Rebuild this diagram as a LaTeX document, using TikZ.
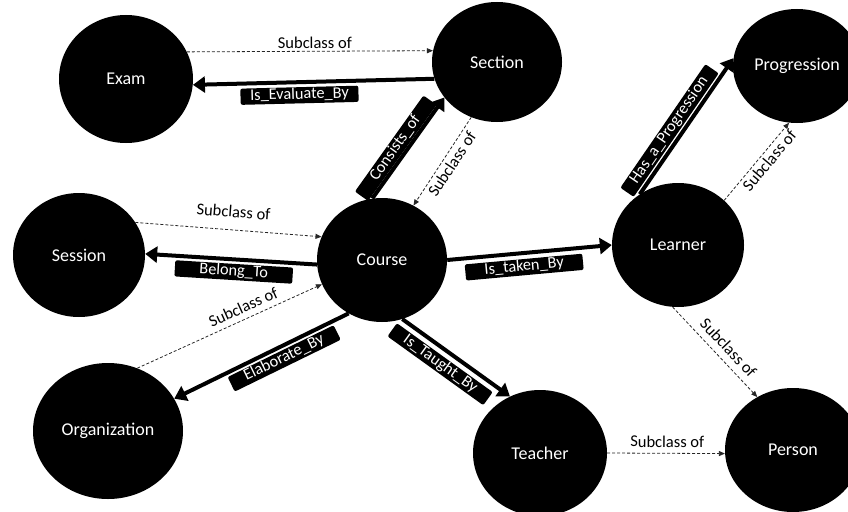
\documentclass[tikz,border=0pt]{standalone}
\usepackage{fontspec}
\setmainfont{Carlito}
\usetikzlibrary{arrows.meta,shapes.geometric}
\begin{document}
\begin{tikzpicture}[x=1pt,y=-1pt,
  cls/.style={ellipse, fill=black, text=white, inner sep=0pt, font=\fontsize{18}{21}\selectfont},
  rel/.style={line width=4pt, -{Triangle[length=12pt,width=16pt]}},
  sub/.style={line width=0.8pt, black!85, dash pattern=on 3pt off 2pt, -{Triangle[length=6pt,width=5pt]}},
  rlab/.style={fill=black, text=white, rounded corners=2pt, font=\fontsize{16.3}{19}\selectfont,
    minimum width=118pt, inner xsep=6pt, inner ysep=0.8pt, text height=11pt, text depth=3.6pt, sloped},
  slab/.style={text=black, font=\fontsize{16.5}{19}\selectfont, sloped, inner sep=1pt}
]
\useasboundingbox (0,0) rectangle (848,511);
\clip (0,0) rectangle (848,511);

% classes
\node[cls, minimum width=134pt, minimum height=128pt] (exam) at (126,79) {Exam};
\node[cls, minimum width=130pt, minimum height=120pt] (section) at (497,62) {Section};
\node[cls, minimum width=128pt, minimum height=114pt] (progression) at (797,66) {Progression};
\node[cls, minimum width=132pt, minimum height=124pt] (session) at (79,255) {Session};
\node[cls, minimum width=130pt, minimum height=124pt] (course) at (382,260) {Course};
\node[cls, minimum width=132pt, minimum height=124pt] (learner) at (678,245) {Learner};
\node[cls, minimum width=150pt, minimum height=136pt] (organization) at (108,431) {Organization};
\node[cls, minimum width=134pt, minimum height=126pt] (teacher) at (540,453) {Teacher};
\node[cls, minimum width=136pt, minimum height=124pt] (person) at (793,450) {Person};

% subclass relations (dashed)
\draw[sub] (exam.24) -- node[slab, pos=0.52, above, outer ysep=2pt] (l1) {Subclass of} (section.170);
\draw[sub] (section.245) -- node[slab, pos=0.47, below, outer ysep=2.5pt] (l4) {Subclass of} (course.60);
\draw[sub] (learner.44) -- node[slab, pos=0.59, below, outer ysep=2.2pt] (l6) {Subclass of} (progression.262);
\draw[sub] (session.30) -- node[slab, pos=0.52, above, outer ysep=11.5pt] (l7) {Subclass of} (course.159);
\draw[sub] (organization.65) -- node[slab, pos=0.60, above, outer ysep=5pt] (l9) {Subclass of} (course.202);
\draw[sub] (learner.265) -- node[slab, pos=0.55, above, outer ysep=6pt] (l13) {Subclass of} (person.124);
\draw[sub] (teacher.0) -- node[slab, pos=0.51, above, outer ysep=5pt] (l14) {Subclass of} (person.183);

% object relations (thick)
\draw[rel] (section.195) -- node[rlab, pos=0.56, below, outer ysep=5pt] (l2) {Is\_Evaluate\_By} (exam.-5);
\draw[rel] (course.99) -- node[rlab, pos=0.44, above, outer ysep=2pt] (l3) {Consists\_of} (section.214);
\draw[rel] (learner.127) -- node[rlab, pos=0.42, above, outer ysep=3.5pt, minimum width=150pt] (l5) {Has\_a\_Progression} (progression.173);
\draw[rel] (course.184) -- node[rlab, pos=0.48, below, outer ysep=4.5pt] (l8) {Belong\_To} (session.1);
\draw[rel] (course.238) -- node[rlab, pos=0.40, below, outer ysep=4pt] (l10) {Elaborate\_By} (organization.26);
\draw[rel] (course.0) -- node[rlab, pos=0.46, below, outer ysep=6pt] (l11) {Is\_taken\_By} (learner.180);
\draw[rel] (course.-71) -- node[rlab, pos=0.43, below, outer ysep=6.5pt] (l12) {Is\_Taught\_By} (teacher.118);
\end{tikzpicture}
\end{document}
